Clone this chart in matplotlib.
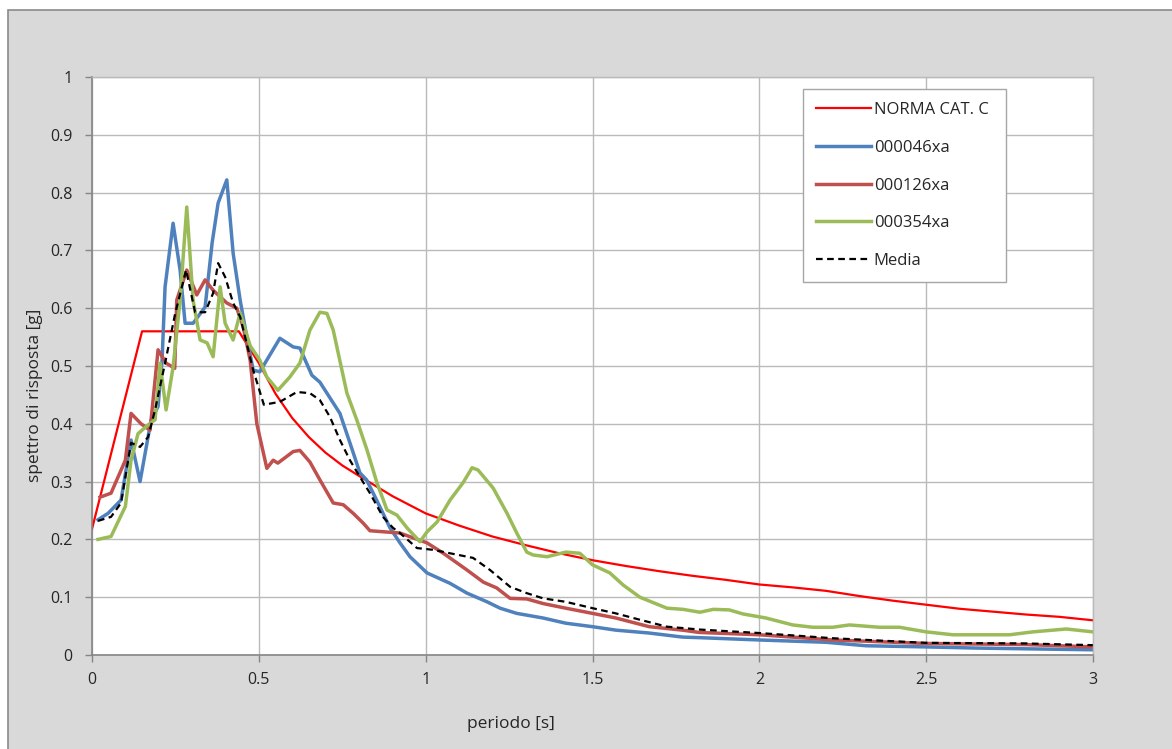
import numpy as np
import matplotlib.pyplot as plt
from matplotlib.patches import Rectangle

# NORMA CAT. C (spettro di normativa)
t_norma = [0.0, 0.15, 0.44, 0.5, 0.55, 0.6, 0.65, 0.7, 0.75, 0.8, 0.9, 1.0, 1.1, 1.2,
           1.3, 1.4, 1.5, 1.6, 1.7, 1.8, 1.9, 2.0, 2.1, 2.2, 2.3, 2.4, 2.5, 2.6, 2.7,
           2.8, 2.9, 3.0]
v_norma = [0.218, 0.56, 0.56, 0.505, 0.452, 0.41, 0.377, 0.35, 0.328, 0.31, 0.275,
           0.245, 0.224, 0.205, 0.19, 0.176, 0.164, 0.154, 0.145, 0.137, 0.13, 0.122,
           0.117, 0.111, 0.102, 0.094, 0.087, 0.080, 0.075, 0.070, 0.066, 0.060]

# 000046xa
t_046 = [0.018, 0.048, 0.087, 0.117, 0.144, 0.177, 0.198, 0.21, 0.219, 0.243, 0.264,
         0.279, 0.303, 0.339, 0.36, 0.378, 0.404, 0.423, 0.444, 0.464, 0.483, 0.503,
         0.563, 0.603, 0.623, 0.659, 0.683, 0.743, 0.773, 0.803, 0.823, 0.853, 0.893,
         0.923, 0.953, 1.004, 1.073, 1.124, 1.184, 1.223, 1.273, 1.352, 1.42, 1.5,
         1.57, 1.67, 1.77, 1.82, 2.0, 2.2, 2.32, 2.5, 2.65, 3.0]
v_046 = [0.234, 0.245, 0.268, 0.372, 0.30, 0.406, 0.43, 0.51, 0.637, 0.747, 0.666,
         0.574, 0.574, 0.602, 0.713, 0.782, 0.822, 0.695, 0.614, 0.55, 0.493, 0.49,
         0.548, 0.533, 0.531, 0.484, 0.472, 0.418, 0.367, 0.315, 0.303, 0.268, 0.22,
         0.194, 0.17, 0.142, 0.124, 0.107, 0.092, 0.081, 0.072, 0.064, 0.055, 0.049,
         0.043, 0.038, 0.031, 0.030, 0.026, 0.022, 0.016, 0.014, 0.012, 0.009]

# 000126xa
t_126 = [0.024, 0.057, 0.1, 0.117, 0.147, 0.174, 0.198, 0.222, 0.248, 0.254, 0.284,
         0.314, 0.339, 0.363, 0.404, 0.434, 0.453, 0.474, 0.494, 0.524, 0.543, 0.557,
         0.603, 0.623, 0.653, 0.683, 0.723, 0.753, 0.783, 0.813, 0.833, 0.923, 1.004,
         1.053, 1.124, 1.173, 1.213, 1.253, 1.303, 1.352, 1.42, 1.5, 1.57, 1.67, 1.77,
         1.82, 2.0, 2.22, 2.5, 2.8, 3.0]
v_126 = [0.273, 0.28, 0.337, 0.418, 0.40, 0.389, 0.528, 0.505, 0.496, 0.614, 0.666,
         0.623, 0.649, 0.631, 0.609, 0.60, 0.568, 0.51, 0.40, 0.323, 0.337, 0.332,
         0.352, 0.354, 0.334, 0.303, 0.263, 0.26, 0.245, 0.228, 0.215, 0.211, 0.194,
         0.176, 0.147, 0.126, 0.116, 0.098, 0.097, 0.089, 0.081, 0.072, 0.064, 0.049,
         0.043, 0.039, 0.035, 0.026, 0.02, 0.018, 0.014]

# 000354xa
t_354 = [0.018, 0.057, 0.1, 0.117, 0.138, 0.168, 0.189, 0.204, 0.222, 0.243, 0.264,
         0.284, 0.303, 0.324, 0.345, 0.363, 0.384, 0.399, 0.423, 0.444, 0.474, 0.503,
         0.524, 0.557, 0.593, 0.623, 0.653, 0.683, 0.704, 0.723, 0.764, 0.794, 0.824,
         0.854, 0.884, 0.914, 0.944, 0.983, 1.004, 1.034, 1.073, 1.112, 1.139, 1.157,
         1.202, 1.244, 1.273, 1.303, 1.322, 1.364, 1.42, 1.462, 1.5, 1.552, 1.592,
         1.642, 1.723, 1.771, 1.822, 1.862, 1.91, 1.951, 2.02, 2.1, 2.16, 2.22, 2.27,
         2.36, 2.42, 2.5, 2.58, 2.75, 2.82, 2.92, 3.0]
v_354 = [0.2, 0.205, 0.257, 0.337, 0.383, 0.398, 0.407, 0.505, 0.424, 0.498, 0.614,
         0.775, 0.614, 0.545, 0.54, 0.516, 0.637, 0.574, 0.545, 0.592, 0.535, 0.51,
         0.481, 0.458, 0.481, 0.505, 0.562, 0.593, 0.591, 0.562, 0.453, 0.406, 0.355,
         0.298, 0.251, 0.242, 0.22, 0.196, 0.213, 0.23, 0.268, 0.298, 0.324, 0.32,
         0.289, 0.245, 0.211, 0.178, 0.173, 0.17, 0.178, 0.176, 0.156, 0.142, 0.121,
         0.1, 0.081, 0.079, 0.074, 0.079, 0.078, 0.071, 0.064, 0.052, 0.048, 0.048,
         0.052, 0.048, 0.048, 0.04, 0.035, 0.035, 0.04, 0.045, 0.04]

# Media
t_media = [0.018, 0.057, 0.087, 0.117, 0.144, 0.168, 0.189, 0.219, 0.249, 0.282,
           0.309, 0.339, 0.363, 0.378, 0.399, 0.423, 0.444, 0.483, 0.515, 0.563,
           0.614, 0.653, 0.683, 0.713, 0.743, 0.773, 0.803, 0.833, 0.872, 0.902,
           0.923, 0.974, 1.022, 1.073, 1.142, 1.193, 1.253, 1.303, 1.352, 1.42, 1.5,
           1.57, 1.642, 1.723, 1.822, 2.0, 2.22, 2.5, 2.8, 3.0]
v_media = [0.232, 0.239, 0.263, 0.367, 0.36, 0.377, 0.424, 0.505, 0.59, 0.666,
           0.593, 0.593, 0.626, 0.678, 0.654, 0.609, 0.585, 0.493, 0.433, 0.438,
           0.455, 0.453, 0.441, 0.412, 0.372, 0.337, 0.308, 0.28, 0.239, 0.22,
           0.211, 0.185, 0.182, 0.176, 0.168, 0.147, 0.118, 0.107, 0.098, 0.092,
           0.081, 0.072, 0.061, 0.049, 0.044, 0.038, 0.029, 0.021, 0.02, 0.017]

plt.rcParams['font.family'] = ['Open Sans', 'DejaVu Sans']

W, H = 1172, 749
fig = plt.figure(figsize=(W / 100, H / 100), dpi=100)
fig.patch.set_facecolor('white')
# chart area (excel style grey frame)
bg = Rectangle((8 / W, -0.01), 1.0, 1 - 10 / H + 0.01, transform=fig.transFigure,
               facecolor='#d9d9d9', edgecolor='#8a8a8a', linewidth=1.2, zorder=-10)
fig.add_artist(bg)

ax = fig.add_axes([92 / W, 1 - 655 / H, (1093 - 92) / W, (655 - 77) / H])
ax.set_facecolor('white')

ax.plot(t_norma, v_norma, color='#ff0000', lw=1.6, label='NORMA CAT. C')
ax.plot(t_046, v_046, color='#4f81bd', lw=2.5, label='000046xa')
ax.plot(t_126, v_126, color='#c0504d', lw=2.5, label='000126xa')
ax.plot(t_354, v_354, color='#9bbb59', lw=2.5, label='000354xa')
ax.plot(t_media, v_media, color='black', lw=1.6, ls=(0, (3, 2)), label='Media')

ax.set_xlim(0, 3)
ax.set_ylim(0, 1)
ax.set_xticks(np.arange(0, 3.01, 0.5))
ax.set_xticklabels(['0', '0.5', '1', '1.5', '2', '2.5', '3'])
ax.set_yticks(np.arange(0, 1.01, 0.1))
ax.set_yticklabels(['0', '0.1', '0.2', '0.3', '0.4', '0.5', '0.6', '0.7', '0.8', '0.9', '1'])
ax.grid(True, color='#bababa', lw=1.0)
ax.set_axisbelow(True)
ax.tick_params(colors='#868686', labelcolor='#262626', labelsize=11.5, length=5, width=1)
ax.tick_params(axis='x', pad=7)
ax.tick_params(axis='y', pad=9)
for s in ['left', 'bottom']:
    ax.spines[s].set_color('#868686')
    ax.spines[s].set_linewidth(1.2)
for s in ['top', 'right']:
    ax.spines[s].set_color('#bababa')
    ax.spines[s].set_linewidth(1.0)

fig.text(35 / W, 1 - 395 / H, 'spettro di risposta [g]', rotation=90,
         ha='center', va='center', fontsize=12.5, color='#262626')
fig.text(511 / W, 1 - 724 / H, 'periodo [s]', ha='center', va='center',
         fontsize=12.5, color='#262626')

leg = ax.legend(loc='upper left', bbox_to_anchor=(803 / W, 1 - 276 / H, 203 / W, 187 / H),
                bbox_transform=fig.transFigure, mode='expand', borderaxespad=0,
                fontsize=12, handlelength=3.3, handletextpad=0.15, labelspacing=1.3,
                borderpad=0.8, fancybox=False, framealpha=1, edgecolor='#a6a6a6')
leg.get_frame().set_linewidth(1.0)
for txt in leg.get_texts():
    txt.set_color('#262626')

fig.savefig('out.png', dpi=100)
